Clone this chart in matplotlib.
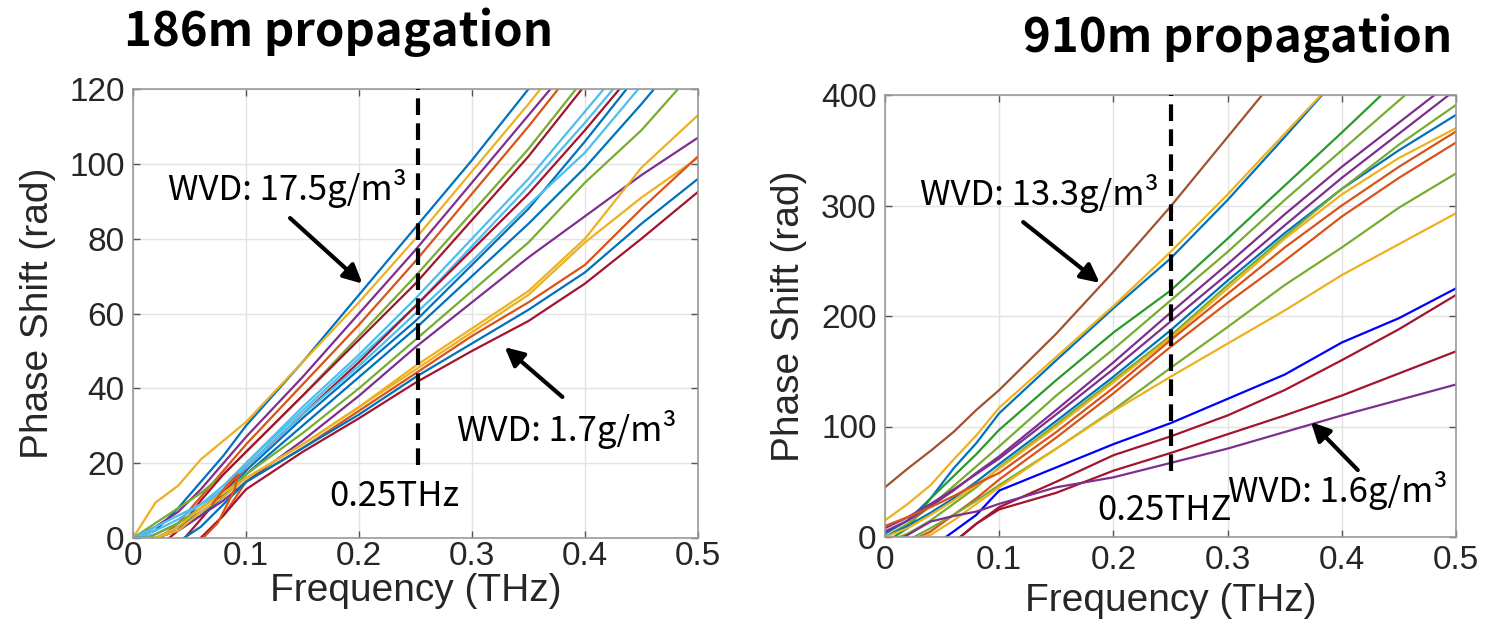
import matplotlib
matplotlib.use("Agg")
import matplotlib.pyplot as plt
from matplotlib.ticker import FuncFormatter

# frequency grid (THz) shared by all curves
freq = [0, 0.02, 0.04, 0.06, 0.08, 0.1, 0.15, 0.2, 0.25, 0.3, 0.35, 0.4, 0.45, 0.5]

# ---- 186 m propagation: phase shift (rad), top curve (17.5 g/m3) down to 1.7 g/m3
p186_01 = [0, 2, 8, 15, 22, 30, 47, 65, 83, 101, 120, 139, 158, 177]
p186_02 = [0, 9.5, 14, 21, 26, 31, 47, 63, 80, 98, 116, 135, 154, 173]
p186_03 = [0, 3, 7, 13, 20, 27, 43, 60, 77, 95, 113, 131, 150, 169]
p186_04 = [-4, -1, 4, 11, 18, 25, 41, 57, 74, 92, 110, 129, 148, 167]
p186_05 = [0, 4, 8, 12, 17, 23, 38, 54, 70, 87, 104, 123, 142, 161]
p186_06 = [-6, -3, 2, 10, 17, 23, 38, 53, 68, 85, 102, 121, 140, 159]
p186_07 = [0, 1, 4, 8, 13, 20, 35, 49, 64, 80, 96, 114, 132, 150]
p186_08 = [0, 2, 5, 9, 14, 20, 34, 48, 62, 78, 94, 111, 129, 147]
p186_09 = [-10, -6, -2, 5, 12, 19, 33, 47, 62, 77, 92, 109, 127, 145]
p186_10 = [0, 0, 2, 6, 11, 18, 32, 45, 58, 73, 88, 106, 125, 144]
p186_11 = [0, 3, 6, 9, 13, 19, 33, 46, 60, 74, 89, 103, 121, 139]
p186_12 = [0, 0, 3, 7, 11, 17, 30, 43, 56, 70, 84, 99, 116, 134]
p186_13 = [-2, 1, 4, 8, 12, 17, 28, 40, 53, 66, 79, 95, 109, 126]
p186_14 = [0, 0, 2, 6, 10, 15, 26, 38, 51, 63, 75, 86, 97, 107]
p186_15 = [0, 0, 3, 8, 12, 16, 25, 35, 46, 56, 66, 80, 99, 113]
p186_16 = [0, 0, 2, 7, 11, 16, 25, 35, 45, 55, 65, 79, 91, 101.6]
p186_17 = [-12, -8, -4, 0, 6, 15, 24, 34, 44, 54, 63, 73, 88, 102]
p186_18 = [-5, -3, -1, 3, 9, 15, 24, 33, 43, 52, 61, 71, 84, 96]
p186_19 = [-10, -7, -4, 0, 6, 13, 23, 32, 41.5, 50, 58, 68, 80, 92.5]
loop186_f = [0.062, 0.075, 0.09, 0.093, 0.083, 0.07]
loop186_p = [0, 4, 13, 17, 14, 9]

# ---- 910 m propagation: phase shift (rad), top curve (13.3 g/m3) down to 1.6 g/m3
p910_01 = [45, 62, 78, 95, 115, 133, 184, 240, 299, 362, 425, 490, 555, 620]
p910_02 = [3, 15, 35, 62, 85, 112, 160, 207, 252, 305, 362, 420, 480, 540]
p910_03 = [15, 30, 47, 70, 92, 117, 163, 209, 258, 310, 365, 420, 478, 536]
p910_04 = [-5, 8, 35, 55, 75, 97, 142, 185, 223, 270, 318, 366, 415, 465]
p910_05 = [0, 12, 28, 46, 64, 82, 128, 170, 214, 258, 305, 350, 395, 440]
p910_06 = [5, 15, 28, 42, 58, 73, 115, 158, 203, 247, 292, 335, 375, 415]
p910_07 = [8, 18, 30, 43, 57, 71, 111, 152, 195, 238, 282, 325, 365, 405]
p910_08 = [0, 10, 22, 35, 50, 66, 105, 145, 187, 232, 275, 315, 350, 382]
p910_09 = [-5, 3, 15, 30, 45, 63, 102, 142, 182, 228, 272, 315, 355, 391]
p910_10 = [0, 8, 20, 33, 47, 62, 100, 140, 180, 225, 270, 310, 343, 370]
p910_11 = [10, 18, 27, 37, 48, 58, 95, 135, 178, 220, 262, 300, 335, 367]
p910_12 = [-10, -5, 5, 20, 35, 52, 90, 130, 172, 212, 250, 290, 325, 357]
p910_13 = [-10, -3, 8, 20, 33, 47, 80, 115, 153, 190, 228, 262, 298, 329]
p910_14 = [-10, -3, 2, 15, 30, 45, 80, 114, 145, 175, 205, 237, 265, 293]
p910_15 = [-30, -20, -10, 5, 20, 42, 63, 84, 103, 125, 147, 176, 198, 225]
p910_16 = [-40, -30, -20, -5, 12, 27, 50, 74, 91, 110, 133, 160, 188, 219]
p910_17 = [-40, -30, -20, -5, 12, 25, 40, 60, 76, 93, 110, 128, 148, 168]
p910_18 = [-10, 2, 14, 19, 23, 30, 45, 54, 67, 80, 95, 110, 124, 138]

blue, orange, yellow = '#0072BD', '#D95319', '#EDB120'
purple, green, cyan, dred = '#7E2F8E', '#77AC30', '#4DBEEE', '#A2142F'

left_curves = [(p186_01, blue), (p186_02, yellow), (p186_03, purple), (p186_04, orange),
               (p186_05, green), (p186_06, dred), (p186_07, cyan), (p186_08, cyan),
               (p186_09, dred), (p186_10, blue), (p186_11, cyan), (p186_12, blue),
               (p186_13, green), (p186_14, purple), (p186_15, yellow), (p186_16, yellow),
               (p186_17, orange), (p186_18, blue), (p186_19, dred)]
right_curves = [(p910_01, '#A0522D'), (p910_02, blue), (p910_03, yellow), (p910_04, '#2A9A2A'),
                (p910_05, green), (p910_06, purple), (p910_07, purple), (p910_08, blue),
                (p910_09, green), (p910_10, yellow), (p910_11, orange), (p910_12, orange),
                (p910_13, green), (p910_14, yellow), (p910_15, '#0000FF'), (p910_16, dred),
                (p910_17, dred), (p910_18, purple)]

cjk = ['Noto Sans CJK KR', 'DejaVu Sans']
plt.rcParams['font.family'] = ['Liberation Sans', 'DejaVu Sans']

fig = plt.figure(figsize=(14.87, 6.39), dpi=100)
ax1 = fig.add_axes([133/1487, 1-538/639, 565/1487, 449/639])
ax2 = fig.add_axes([885/1487, 1-537/639, 571/1487, 442/639])

fmt = FuncFormatter(lambda v, pos: '%g' % round(v, 3))

def style(ax, ymax, ystep, xlab_y, xpad):
    ax.set_xlim(0, 0.5)
    ax.set_ylim(0, ymax)
    ax.set_xticks([0, 0.1, 0.2, 0.3, 0.4, 0.5])
    ax.set_yticks(range(0, ymax + 1, ystep))
    ax.xaxis.set_major_formatter(fmt)
    ax.grid(True, color='#e3e3e3', lw=1)
    ax.set_axisbelow(True)
    ax.tick_params(direction='in', length=5, width=1, color='#555555',
                   labelsize=24, labelcolor='#262626', top=True, right=True, pad=6)
    ax.tick_params(axis='x', pad=xpad)
    for s in ax.spines.values():
        s.set_color('#999999')
        s.set_linewidth(1.2)
    ax.set_xlabel('Frequency (THz)', fontsize=28, color='#262626')
    ax.set_ylabel('Phase Shift (rad)', fontsize=28, color='#262626')
    ax.xaxis.set_label_coords(0.5, xlab_y)
    ax.yaxis.set_label_coords(-0.137, 0.5)

for vals, c in left_curves:
    ax1.plot(freq, vals, color=c, lw=1.6)
ax1.plot(loop186_f, loop186_p, color=orange, lw=1.6)
for vals, c in right_curves:
    ax2.plot(freq, vals, color=c, lw=1.6)

style(ax1, 120, 20, -0.078, 2)
style(ax2, 400, 100, -0.105, 6)

ax1.vlines(0.252, 19.5, 120, colors='k', linestyles=(0, (4, 2)), lw=3, zorder=5)
ax2.vlines(0.25, 60, 400, colors='k', linestyles=(0, (4, 2)), lw=3, zorder=5)

arrow = dict(arrowstyle='-|>', color='k', lw=3, mutation_scale=28, shrinkA=0, shrinkB=0)
ax1.text(0.031, 93.5, 'WVD: 17.5g/m³', fontsize=25, family=cjk, va='center', zorder=6)
ax1.annotate('', xy=(0.203, 68), xytext=(0.139, 85.5), arrowprops=arrow, zorder=6)
ax1.text(0.287, 29, 'WVD: 1.7g/m³', fontsize=25, family=cjk, va='center', zorder=6)
ax1.annotate('', xy=(0.329, 51), xytext=(0.38, 37.7), arrowprops=arrow, zorder=6)
ax1.text(0.174, 11, '0.25THz', fontsize=25, family=cjk, va='center', zorder=6)

ax2.text(0.031, 311, 'WVD: 13.3g/m³', fontsize=25, family=cjk, va='center', zorder=6)
ax2.annotate('', xy=(0.188, 230), xytext=(0.121, 285), arrowprops=arrow, zorder=6)
ax2.text(0.30, 42, 'WVD: 1.6g/m³', fontsize=25, family=cjk, va='center', zorder=6)
ax2.annotate('', xy=(0.373, 104), xytext=(0.414, 60.6), arrowprops=arrow, zorder=6)
ax2.text(0.186, 24, '0.25THZ', fontsize=25, family=cjk, va='center', zorder=6)

fig.text(0.228, 0.95, '186m propagation', fontsize=34, fontweight='bold', family=cjk,
         ha='center', va='center')
fig.text(0.832, 0.94, '910m propagation', fontsize=34, fontweight='bold', family=cjk,
         ha='center', va='center')

fig.savefig('out.png', dpi=100)
